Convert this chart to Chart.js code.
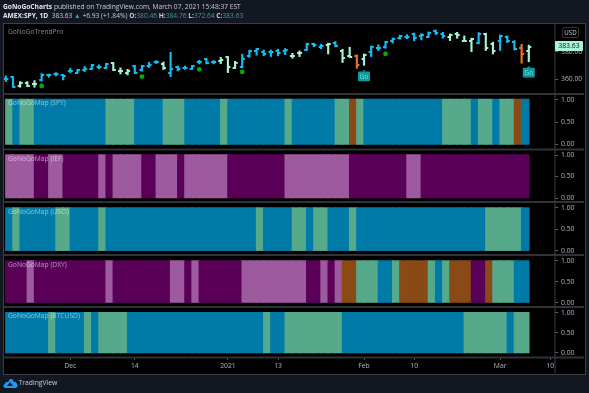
<!DOCTYPE html>
<html><head><meta charset="utf-8">
<style>
html,body{margin:0;padding:0;background:#131722;width:589px;height:393px;overflow:hidden;font-family:"Open Sans",sans-serif}
#pane{position:absolute;left:3px;top:23px;width:581px;height:350px;background:#000;border:1px solid #3a3e49}
#c{position:absolute;left:0;top:0;width:589px;height:393px}
.t{position:absolute;white-space:nowrap;font-size:6.65px;line-height:10px}
.cap{color:rgba(255,255,255,.55);font-size:6.7px}
b{font-weight:700}
.v{color:#3f9d9d}
</style>
<script src="https://cdn.jsdelivr.net/npm/chart.js@4"></script>
</head><body>
<div id="pane"></div>
<canvas id="c" width="589" height="393"></canvas>
<div class="t" style="left:3px;top:1.5px;color:#c8ccd6"><b style="color:#e4e6ec">GoNoGoCharts</b> published on TradingView.com, March 07, 2021 15:48:37 EST</div>
<div class="t" style="left:3px;top:11px;color:#c8ccd6"><b style="color:#e4e6ec">AMEX:SPY, 1D</b>&nbsp; 383.63 <span class="v">▲</span> +6.93 (+1.84%) <b>O:</b><span class="v">380.46</span> <b>H:</b><span class="v">384.76</span> <b>L:</b><span class="v">372.64</span> <b>C:</b><span class="v">383.63</span></div>
<div class="t" style="left:8px;top:27px;color:#8a8a8a;font-size:6.6px">GoNoGoTrendPro</div>
<div class="t cap" style="left:8px;top:98px">GoNoGoMap (SPY)</div>
<div class="t cap" style="left:8px;top:153.5px">GoNoGoMap (IEF)</div>
<div class="t cap" style="left:8px;top:207px">GoNoGoMap (USCI)</div>
<div class="t cap" style="left:8px;top:259.5px">GoNoGoMap (DXY)</div>
<div class="t cap" style="left:8px;top:311px">GoNoGoMap (BTCUSD)</div>
<div class="t" style="left:562px;top:27px;width:15px;height:9px;border:1px solid #333;border-radius:2px;color:#c8ccd6;text-align:center;font-size:6.2px;line-height:9px">USD</div>
<div class="t" style="left:555px;top:41px;width:28px;height:10px;background:#a9f5d5;border-radius:1px;color:#111;text-align:center;font-size:6.9px;line-height:10px">383.63</div>
<svg style="position:absolute;left:3px;top:378px" width="15" height="10" viewBox="0 0 15 10"><path d="M0 8 L3 4 L5 4 L7 1 L9 1 L11 4 L13 4 L15 8 L13 10 L2 10 Z" fill="#2196f3"/><path d="M4 8 L7 4 L10 8 Z" fill="#131722"/></svg>
<div class="t" style="left:18.5px;top:378px;color:#c8ccd6;font-size:6.8px">TradingView</div>
<script>
// price bars, k = 0..73
const highs=[362.4,361.9,358.3,358.3,359.0,364.1,363.8,364.8,363.4,368,367.2,369.2,370.6,370.4,371.6,372.1,368.2,367.2,370.1,370.1,372.3,373.5,372.5,379.5,369.6,369.6,369.9,373.7,375,373.5,375.9,376.4,373,378.1,381,382.2,381.2,381.2,381.7,382.2,378.8,380.5,386.1,386.1,385.3,386.1,387.3,381.7,383.2,377.6,378.3,384.1,384.9,387.5,389.9,391.9,392.3,393.5,393.1,394.3,395.7,394,392.8,394,391.4,389.7,393.8,393.3,386.8,392.1,391.4,388,385.3,384.76];
const lows=[358.3,354.2,354.2,354.7,354.2,358.8,361.4,362.4,359.5,364.8,364.3,365.5,367.2,367.5,367.5,366.3,363.8,363.1,364.1,365.8,368.4,371.3,367,361.9,366,367.2,367.2,371.1,371.1,371.1,371.3,364.8,367.7,368.2,375.9,377.4,377.1,376.4,376.9,377.8,375.2,376.4,380.8,383.6,382,378.3,383.6,372.1,375.9,367.9,370.1,376.4,380.8,382.4,386.1,389,389.4,387.8,388.5,390.2,392.3,389.7,388,389.7,387.3,380,385.6,380.8,378.3,380.8,386.5,381.2,371.6,372.64];
const opens=[360,361.4,355.1,357.6,356.6,359.5,363.4,363.8,362.9,366,364.8,367,367.7,368.9,368.2,371.6,366.3,364.6,369.4,366.7,369.9,372.5,371.3,364.8,368.9,368.2,367.7,372.3,374.5,372.5,373,375.9,368.2,369.2,376.9,380.8,380,379.8,380.8,380.8,377.1,378.8,381.2,385.3,383.2,384.9,386.1,380.8,376.9,376.9,374.5,380,382.4,383.6,388,390.2,390.6,393.1,391.6,390.9,395,393.1,390.9,392.8,388,388,386.5,392.8,385.6,387.5,390.4,387.3,382.4,380.46];
const closes=[360,354.7,357.1,355.1,356.6,363.4,362.9,363.8,362.6,366.3,367,367.2,370.1,368.9,371.1,366.7,365.8,366.3,364.8,369.6,370.4,372.8,368,367.2,367.2,368.2,369.4,372.8,371.6,372.5,374,369.2,371.6,374.5,380.3,381.7,378.1,379.8,378.8,381.2,377.1,378.8,385.3,384.9,383.9,385.6,384.4,375.2,376.4,370.4,377.6,383.2,382.7,386.8,389,391.1,390.9,390.2,391.9,393.8,393.3,391.1,391.9,392.3,388,389,392.8,382.4,380.5,391.4,388,382.2,378.1,383.63];
// bar colour state: b strong go, p weak go, o go fading
const barStates="bbppp"+"bbbbbbbbbb"+"ppp"+"bbbb"+"p"+"bbbbbbb"+"ppp"+"bbbbbbb"+"pp"+"bbb"+"p"+"b"+"pp"+"o"+"p"+"bbbbbbbbbbb"+"pppp"+"b"+"pp"+"bbb"+"o"+"p";
const dotBars=[5,19,27,33,53];
const dotPrices=[355.1,361.9,367.2,365.3,378.3];
const goBars=[50,73];
const goPrices=[362.1,364.8];
// map panels: g light go, b strong go, o fading, d dark no-go, l light no-go
const spyMap ="gbggbbbbbbbbbbggggbbbbgggbbbbbgbbbbbbbbgbbbbbbggogbbbbbbbbbbbggggbggbggob";
const iefMap ="llllddllddddd"+"ldllll"+"ddlll"+"d"+"llllll"+"dddddddd"+"lllllllll"+"dddddddd"+"ll"+"ddddddddddddddd";
const usciMap="bgbbbbbggbbbb"+"g"+"bbbbbbbbbbbbbbbbbbbbb"+"g"+"bbbb"+"gg"+"b"+"gg"+"bbb"+"g"+"bbbbbbbbbbbbbbbbbb"+"ggggg"+"b";
const dxyMap ="dddl"+"dddddddddd"+"l"+"dddddddd"+"ll"+"d"+"l"+"dddddd"+"lllllllll"+"dd"+"l"+"d"+"l"+"oo"+"ggg"+"bb"+"g"+"oooo"+"g"+"b"+"g"+"ooo"+"dd"+"o"+"ggg"+"bb";
const btcMap ="bbbbbb"+"g"+"bbbb"+"g"+"b"+"gggg"+"bbbbbbbbbbbbbbbbbbb"+"g"+"bb"+"gggggggg"+"bbbbbbbbbbbbbbbbb"+"gggggg"+"b"+"gg";
const panelNames=["SPY","IEF","USCI","DXY","BTCUSD"];
const panelMaps=[spyMap,iefMap,usciMap,dxyMap,btcMap];
const panelRanges=[[-0.112,1.124],[-0.093,1.128],[-0.1,1.14],[-0.106,1.144],[-0.112,1.14]];
const panelWeights=[55.5,52.5,53,52,50.5];
const xTickBars=[9,18,31,38,50,57,69,76];
const xTickLabels=["Dec","14","2021","13","Feb","10","Mar","10"];
const priceTicks=[360,380];
const mapTicks=[0,0.5,1];

const cellColor={g:"#57a98b",b:"#007ba8",o:"#8a4a15",d:"#5a0058",l:"#9e5a9e"};
const barColor={b:"#12bdf2",p:"#a6f3d3",o:"#e8761e"};
const tickCol="#b2b5be";
const F={family:'"Open Sans",sans-serif',size:6.8};

function tickImg(color,side){
  const c=document.createElement("canvas");c.width=7;c.height=2;
  const g=c.getContext("2d");g.fillStyle=color;
  g.fillRect(side<0?1:3,0,3,2);return c;
}
const imgs={};for(const k in barColor)imgs[k]={o:tickImg(barColor[k],-1),c:tickImg(barColor[k],1)};

const bars=highs.map((_,k)=>k);
const datasets=[];
datasets.push({type:"scatter",order:1,xAxisID:"x2",yAxisID:"main",showLine:false,
  data:bars.map(k=>({x:k,y:opens[k]})),pointRadius:3,pointHoverRadius:3,
  pointStyle:c=>imgs[barStates[c.dataIndex]].o});
datasets.push({type:"scatter",order:1,xAxisID:"x2",yAxisID:"main",showLine:false,
  data:bars.map(k=>({x:k,y:closes[k]})),pointRadius:3,pointHoverRadius:3,
  pointStyle:c=>imgs[barStates[c.dataIndex]].c});
datasets.push({type:"scatter",order:1,xAxisID:"x2",yAxisID:"main",showLine:false,
  data:dotBars.map((k,i)=>({x:k,y:dotPrices[i]})),pointRadius:2.4,backgroundColor:"#03ad0c",borderWidth:0});
datasets.push({type:"bar",order:2,xAxisID:"x2",yAxisID:"main",barThickness:1.5,grouped:false,
  data:bars.map(k=>({x:k,y:[lows[k],highs[k]]})),
  backgroundColor:bars.map(k=>barColor[barStates[k]])});
panelMaps.forEach((m,p)=>{
  const cells=m.slice(0,73).split("");
  datasets.push({type:"bar",order:3,xAxisID:"x",yAxisID:"p"+p,label:panelNames[p],grouped:false,
    barPercentage:1,categoryPercentage:1,inflateAmount:0.7,
    data:cells.map((_,k)=>({x:k+0.5,y:1})),
    backgroundColor:cells.map(s=>cellColor[s])});
});

const xMin=-0.255,xMax=76.66;
const fitW=s=>{s.width=30};
const scales={
  x:{type:"linear",position:"bottom",min:xMin,max:xMax,offset:false,
    afterFit:s=>{s.height=15.5},
    afterBuildTicks:s=>{s.ticks=xTickBars.map(v=>({value:v}))},
    grid:{display:true,offset:false,drawOnChartArea:false,color:"#555",tickLength:2.5},
    border:{display:false},
    ticks:{color:tickCol,font:F,padding:2,maxRotation:0,autoSkip:false,
      callback:v=>xTickLabels[xTickBars.indexOf(v)]}},
  x2:{type:"linear",display:false,min:xMin,max:xMax,offset:false},
  main:{type:"linear",position:"right",stack:"panes",stackWeight:70,min:349.3,max:400,afterFit:fitW,
    afterBuildTicks:s=>{s.ticks=priceTicks.map(v=>({value:v}))},
    grid:{drawOnChartArea:false,color:"#666",tickLength:3},border:{display:false},
    ticks:{color:tickCol,font:F,padding:3,callback:v=>v.toFixed(2)}}
};
panelRanges.forEach((r,p)=>{
  scales["p"+p]={type:"linear",position:"right",stack:"panes",stackWeight:panelWeights[p],min:r[0],max:r[1],afterFit:fitW,
    afterBuildTicks:s=>{s.ticks=mapTicks.map(v=>({value:v}))},
    grid:{drawOnChartArea:false,color:"#666",tickLength:3},border:{display:false},
    ticks:{color:tickCol,font:F,padding:3,callback:v=>v.toFixed(2)}};
});

const frame={id:"frame",
  beforeDatasetsDraw(ch){
    const a=ch.chartArea,g=ch.ctx;g.save();g.fillStyle="#2f3239";
    ["main","p0","p1","p2","p3"].forEach(id=>{g.fillRect(a.left,ch.scales[id].bottom-1,ch.width-a.left-5,2)});
    g.fillRect(a.left,a.bottom-1,ch.width-a.left-5,2);
    g.fillStyle="#3a3e49";g.fillRect(a.right-0.5,a.top,1,ch.scales.x.bottom-a.top);
    g.restore();
  },
  afterDatasetsDraw(ch){
    const g=ch.ctx,x=ch.scales.x2,y=ch.scales.main;g.save();
    goBars.forEach((k,i)=>{
      const px=x.getPixelForValue(k),py=y.getPixelForValue(goPrices[i]);
      g.fillStyle="#0a9a9f";
      g.beginPath();g.roundRect(px-6,py-4.8,12,9.6,1);g.fill();
      g.beginPath();g.moveTo(px-2,py-4.8);g.lineTo(px,py-6.5);g.lineTo(px+2,py-4.8);g.fill();
      g.fillStyle="#7fe0dc";g.font='6.8px "Open Sans",sans-serif';g.textAlign="center";g.textBaseline="middle";
      g.fillText("Go",px,py+0.3);
    });
    g.restore();
  }};

new Chart(document.getElementById("c"),{
  data:{datasets},
  options:{responsive:false,animation:false,events:[],
    layout:{padding:{left:4,top:24,right:4,bottom:20}},
    plugins:{legend:{display:false},tooltip:{enabled:false},title:{display:false}},
    scales},
  plugins:[frame]
});
</script>
</body></html>
